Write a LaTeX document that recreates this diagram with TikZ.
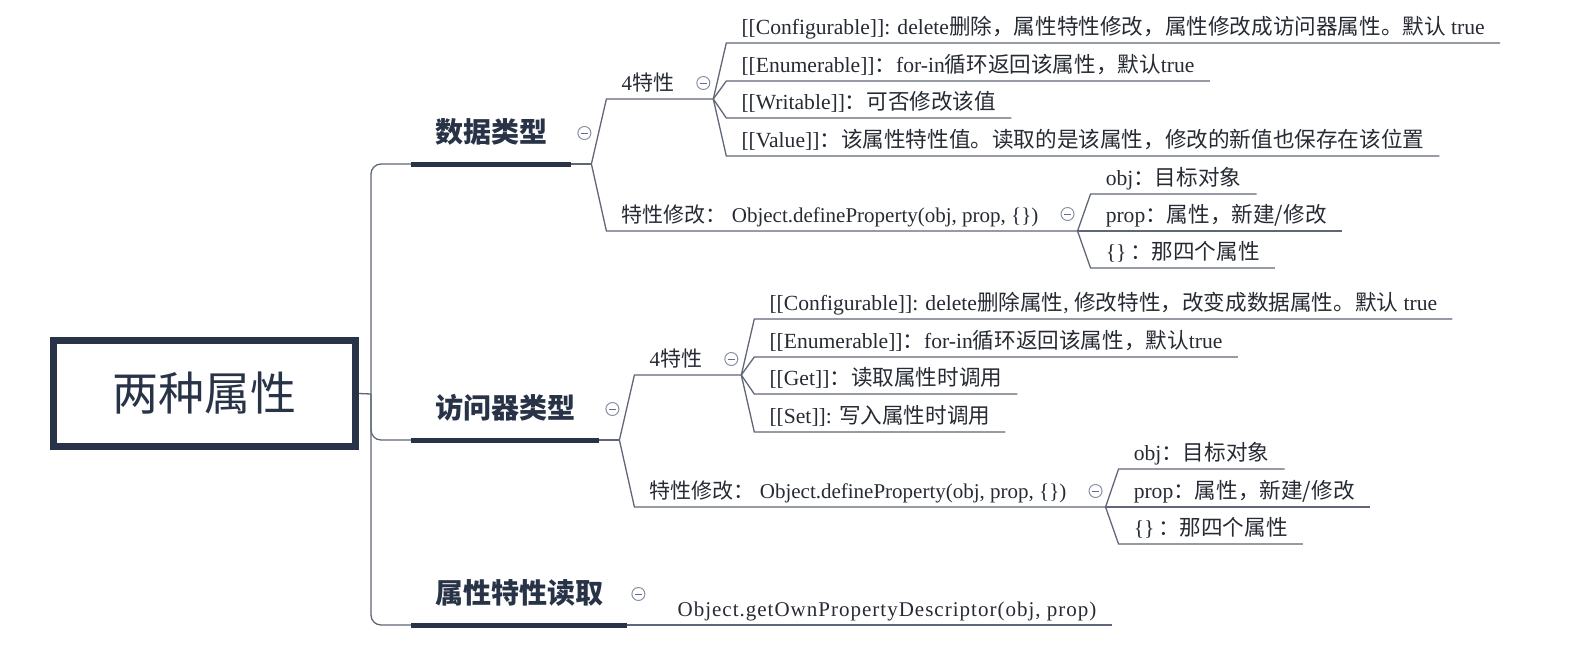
\documentclass[tikz,border=0pt]{standalone}
\usepackage{fontspec}
\setmainfont{Liberation Serif}
\newfontfamily\cjk{Noto Sans CJK SC}
\newfontfamily\spaced{Liberation Serif}[LetterSpace=4.8]
\newcommand{\zh}[1]{{\cjk #1}}
\usetikzlibrary{calc}
\definecolor{navy}{HTML}{283347}
\definecolor{textdark}{HTML}{262A33}
\definecolor{linegray}{HTML}{5F6677}
\definecolor{foldgray}{HTML}{8A90A0}
\definecolor{folddash}{HTML}{5A6E9E}
\tikzset{
    root-box/.style = {draw=navy, line width=7pt, rectangle, minimum width=302pt, minimum height=106pt, font=\cjk\fontsize{46}{50}\selectfont, text=navy},
    main-topic/.style = {anchor=south west, inner xsep=24pt, inner ysep=21pt, text depth=0pt, font=\cjk\bfseries\fontsize{28}{32}\selectfont, text=navy},
    sub-topic/.style = {anchor=south west, inner xsep=15pt, inner ysep=8pt, text depth=0pt, font=\fontsize{21}{24}\selectfont, text=textdark},
    leaf-topic/.style = {sub-topic, font=\fontsize{21.6}{24}\selectfont},
    thick-line/.style = {draw=navy, line width=5pt},
    branch-line/.style = {draw=linegray, line width=1.3pt},
    fold-mark/.style = {circle, draw=foldgray, fill=white, line width=1pt, minimum size=13pt, inner sep=0pt,
        path picture={\draw[folddash, line width=1pt] ([xshift=-3.5pt]path picture bounding box.center) -- ([xshift=3.5pt]path picture bounding box.center);}},
}

\begin{document}
\begin{tikzpicture}[x=1pt, y=-1pt]
\useasboundingbox (0,0) rectangle (1582,656);

\node[root-box] (root) at (204.5,393.5) {两种属性};
\coordinate (hub) at (371,394);
\draw[branch-line] (root.east) -- (hub);

% 数据类型
\node[main-topic] (data) at (411,164) {数据类型};
\draw[branch-line, rounded corners=10pt] (hub) |- (data.south west);
\coordinate (data-fork) at ($(data.south east)+(20,0)$);
\draw[branch-line] (data.south east) -- (data-fork);
\draw[thick-line] (data.south west) -- (data.south east);
\node[fold-mark] (data-fold) at ($(data.south east)+(13,-31)$) {};

\node[sub-topic] (data-four) at ($(data-fork)+(15,-65)$) {4\zh{特性}};
\coordinate (data-four-fork) at ($(data-four.south east)+(24,0)$);
\draw[branch-line] (data-fork) -- (data-four.south west) -- (data-four-fork);
\node[fold-mark] (data-four-fold) at ($(data-four.south east)+(14,-16)$) {};

\node[leaf-topic] (data-conf) at ($(data-four-fork)+(13,-56)$) {[[Configurable]]: delete\zh{删除，属性特性修改，属性修改成访问器属性。默认} true};
\node[leaf-topic] (data-enum) at ($(data-four-fork)+(13,-18)$) {[[Enumerable]]\zh{：}for-in\zh{循环返回该属性，默认}true};
\node[leaf-topic] (data-writ) at ($(data-four-fork)+(13,19)$) {[[Writable]]\zh{：可否修改该值}};
\node[leaf-topic] (data-val) at ($(data-four-fork)+(13,57)$) {[[Value]]\zh{：该属性特性值。读取的是该属性，修改的新值也保存在该位置}};
\draw[branch-line] (data-four-fork) -- (data-conf.south west) -- (data-conf.south east);
\draw[branch-line] (data-four-fork) -- (data-enum.south west) -- (data-enum.south east);
\draw[branch-line] (data-four-fork) -- (data-writ.south west) -- (data-writ.south east);
\draw[branch-line] (data-four-fork) -- (data-val.south west) -- (data-val.south east);

\node[sub-topic] (data-edit) at ($(data-fork)+(15,67)$) {\zh{特性修改：} Object.defineProperty(obj, prop, \{\})};
\coordinate (data-edit-fork) at ($(data-edit.south east)+(24,0)$);
\draw[branch-line] (data-fork) -- (data-edit.south west) -- (data-edit-fork);
\node[fold-mark] (data-edit-fold) at ($(data-edit.south east)+(14,-17)$) {};

\node[leaf-topic] (data-obj) at ($(data-edit-fork)+(13,-37)$) {obj\zh{：目标对象}};
\node[leaf-topic] (data-prop) at ($(data-edit-fork)+(13,0)$) {prop\zh{：属性，新建/修改}};
\node[leaf-topic] (data-desc) at ($(data-edit-fork)+(13,37)$) {\{\}\,\zh{：那四个属性}};
\draw[branch-line] (data-edit-fork) -- (data-obj.south west) -- (data-obj.south east);
\draw[branch-line] (data-edit-fork) -- (data-prop.south west) -- (data-prop.south east);
\draw[branch-line] (data-edit-fork) -- (data-desc.south west) -- (data-desc.south east);

% 访问器类型
\node[main-topic] (acc) at (411,440) {访问器类型};
\draw[branch-line, rounded corners=10pt] (hub) |- (acc.south west);
\coordinate (acc-fork) at ($(acc.south east)+(20,0)$);
\draw[branch-line] (acc.south east) -- (acc-fork);
\draw[thick-line] (acc.south west) -- (acc.south east);
\node[fold-mark] (acc-fold) at ($(acc.south east)+(13,-31)$) {};

\node[sub-topic] (acc-four) at ($(acc-fork)+(15,-65)$) {4\zh{特性}};
\coordinate (acc-four-fork) at ($(acc-four.south east)+(24,0)$);
\draw[branch-line] (acc-fork) -- (acc-four.south west) -- (acc-four-fork);
\node[fold-mark] (acc-four-fold) at ($(acc-four.south east)+(14,-16)$) {};

\node[leaf-topic] (acc-conf) at ($(acc-four-fork)+(13,-56)$) {[[Configurable]]: delete\zh{删除属性}, \zh{修改特性，改变成数据属性。默认} true};
\node[leaf-topic] (acc-enum) at ($(acc-four-fork)+(13,-18)$) {[[Enumerable]]\zh{：}for-in\zh{循环返回该属性，默认}true};
\node[leaf-topic] (acc-get) at ($(acc-four-fork)+(13,19)$) {[[Get]]\zh{：读取属性时调用}};
\node[leaf-topic] (acc-set) at ($(acc-four-fork)+(13,57)$) {[[Set]]: \zh{写入属性时调用}};
\draw[branch-line] (acc-four-fork) -- (acc-conf.south west) -- (acc-conf.south east);
\draw[branch-line] (acc-four-fork) -- (acc-enum.south west) -- (acc-enum.south east);
\draw[branch-line] (acc-four-fork) -- (acc-get.south west) -- (acc-get.south east);
\draw[branch-line] (acc-four-fork) -- (acc-set.south west) -- (acc-set.south east);

\node[sub-topic] (acc-edit) at ($(acc-fork)+(15,67)$) {\zh{特性修改：} Object.defineProperty(obj, prop, \{\})};
\coordinate (acc-edit-fork) at ($(acc-edit.south east)+(24,0)$);
\draw[branch-line] (acc-fork) -- (acc-edit.south west) -- (acc-edit-fork);
\node[fold-mark] (acc-edit-fold) at ($(acc-edit.south east)+(14,-16)$) {};

\node[leaf-topic] (acc-obj) at ($(acc-edit-fork)+(13,-38)$) {obj\zh{：目标对象}};
\node[leaf-topic] (acc-prop) at ($(acc-edit-fork)+(13,0)$) {prop\zh{：属性，新建/修改}};
\node[leaf-topic] (acc-desc) at ($(acc-edit-fork)+(13,37)$) {\{\}\,\zh{：那四个属性}};
\draw[branch-line] (acc-edit-fork) -- (acc-obj.south west) -- (acc-obj.south east);
\draw[branch-line] (acc-edit-fork) -- (acc-prop.south west) -- (acc-prop.south east);
\draw[branch-line] (acc-edit-fork) -- (acc-desc.south west) -- (acc-desc.south east);

% 属性特性读取
\node[main-topic] (read) at (411,625) {属性特性读取};
\draw[branch-line, rounded corners=10pt] (hub) |- (read.south west);
\node[leaf-topic, font=\spaced\fontsize{21}{24}\selectfont] (read-get) at ($(read.south east)+(35,0)$) {Object.getOwnPropertyDescriptor(obj, prop)};
\draw[branch-line] (read.south east) -- (read-get.south east);
\draw[thick-line] (read.south west) -- (read.south east);
\node[fold-mark] (read-fold) at ($(read.south east)+(11,-31)$) {};
\end{tikzpicture}
\end{document}
